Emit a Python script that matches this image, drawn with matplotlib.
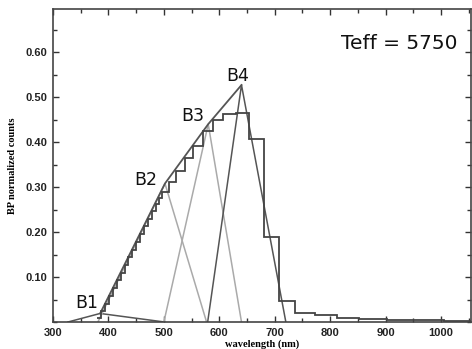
import numpy as np
import matplotlib
matplotlib.use("Agg")
import matplotlib.pyplot as plt
from matplotlib.ticker import MultipleLocator, FixedLocator

plt.rcParams["font.family"] = "Liberation Sans"
plt.rcParams["font.weight"] = "bold"

# histogram (BP spectrum) bin edges and values
bin_edges = [380, 387, 394, 401, 408, 415, 422, 429, 436, 443, 450, 457, 464,
             471, 478, 485, 491, 497, 509, 522.5, 537.5, 552, 570, 588, 606,
             630, 653, 680, 707, 737, 773, 812, 852, 903, 950, 1005, 1054]
bin_values = [0.010, 0.024, 0.041, 0.058, 0.075, 0.093, 0.110, 0.127, 0.144,
              0.161, 0.179, 0.196, 0.213, 0.230, 0.247, 0.262, 0.276, 0.290,
              0.312, 0.336, 0.364, 0.392, 0.424, 0.450, 0.463, 0.465, 0.406,
              0.190, 0.047, 0.021, 0.015, 0.010, 0.007, 0.005, 0.004, 0.003]

# band triangles: (left foot, peak wavelength, peak value, right foot)
bands = ["B1", "B2", "B3", "B4"]
band_left = [327, 381, 500, 579]
band_peak_x = [385, 502, 580, 640]
band_peak_y = [0.019, 0.308, 0.440, 0.527]
band_right = [501, 577, 640, 720]
band_colors = ["#555555", "#aaaaaa", "#aaaaaa", "#555555"]
label_x = [361, 467, 552, 633]
label_y = [0.042, 0.316, 0.458, 0.547]

fig = plt.figure(figsize=(4.72, 3.49), dpi=100)
ax = fig.add_axes([53 / 472, 1 - 322 / 349, 418 / 472, 313 / 349])

# triangles
for i in range(len(bands)):
    ax.plot([band_left[i], band_peak_x[i], band_right[i]],
            [0, band_peak_y[i], 0], color=band_colors[i], lw=1.1, zorder=2)
    ax.text(label_x[i], label_y[i], bands[i], fontsize=12.5,
            family="DejaVu Sans", weight="normal",
            ha="center", va="center", color="#111111")

# envelope through the peaks
ax.plot(band_peak_x, band_peak_y, color="#555555", lw=1.3, zorder=3)

# staircase
ax.stairs(bin_values, bin_edges, baseline=None, color="#444444", lw=1.3, zorder=4)

ax.text(925, 0.62, "Teff = 5750", fontsize=14.5, family="DejaVu Sans",
        weight="normal", ha="center", va="center", color="#111111")

ax.set_xlim(300, 1054)
ax.set_ylim(0, 0.696)

ax.xaxis.set_major_locator(FixedLocator([300, 400, 500, 600, 700, 800, 900, 1000]))
ax.xaxis.set_minor_locator(MultipleLocator(50))
ax.yaxis.set_major_locator(FixedLocator([0.1, 0.2, 0.3, 0.4, 0.5, 0.6]))
ax.yaxis.set_minor_locator(MultipleLocator(0.05))
ax.yaxis.set_major_formatter(lambda v, pos: "%.2f" % v)

ax.tick_params(which="both", direction="in", top=True, right=True,
               colors="#333333", width=1.0, labelsize=8,
               labelcolor="#222222")
ax.tick_params(which="major", length=4, pad=4)
ax.tick_params(which="minor", length=3)

for sp in ax.spines.values():
    sp.set_color("#444444")
    sp.set_linewidth(1.2)

ax.set_xlabel("wavelength (nm)", family="Liberation Serif", weight="bold",
              fontsize=7.5, labelpad=1)
ax.set_ylabel("BP normalized counts", family="Liberation Serif", weight="bold",
              fontsize=7.5, labelpad=6)

fig.savefig("out.png", dpi=100)
